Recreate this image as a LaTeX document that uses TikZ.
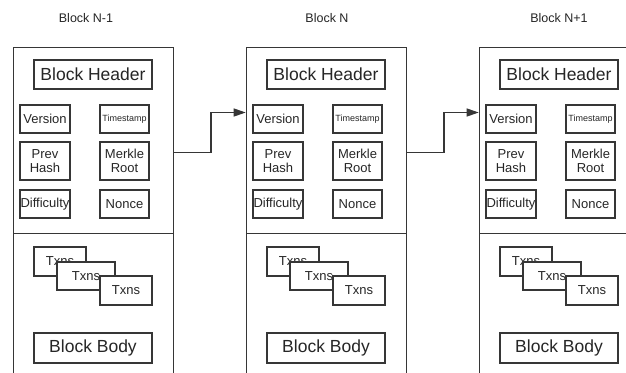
\documentclass[tikz,border=0pt]{standalone}
\usepackage{fontspec}
\setmainfont{Liberation Sans}
\usetikzlibrary{arrows.meta,calc}
\definecolor{edge}{HTML}{363636}
\definecolor{ink}{HTML}{262626}
\tikzset{
  frame/.style={draw=edge, line width=1.3pt, inner sep=0pt, minimum width=160pt, anchor=north west},
  field/.style={draw=edge, line width=1.3pt, fill=white, inner sep=0pt, align=center, text=ink, font=\fontsize{13}{14}\selectfont},
  smallrow/.style={field, minimum height=28pt},
  bigrow/.style={field, minimum height=38pt},
  wide/.style={field, minimum width=118pt, font=\fontsize{17.5}{20}\selectfont},
  txn/.style={field, minimum width=52pt, minimum height=29pt},
  title/.style={text=ink, font=\fontsize{12.5}{14}\selectfont},
  link/.style={-{Triangle[length=12pt,width=8pt]}, line width=1.3pt, draw=edge}
}
\newcommand{\DrawBlock}[4]{% id, xshift, title, title x
  \begin{scope}[xshift=#2]
    \node[frame, minimum height=186.3pt] (hdr#1) at (12.7,46.7) {};
    \node[frame, minimum height=160pt] (body#1) at (12.7,233) {};
    \node[wide, minimum height=29pt] (head#1) at (93,74.5) {Block Header};
    \node[smallrow, minimum width=50pt] (ver#1) at (45,119) {Version};
    \node[smallrow, minimum width=49pt, font=\fontsize{9}{10}\selectfont] (time#1) at (124.5,119) {Timestamp};
    \node[bigrow, minimum width=50pt] (prev#1) at (45,161) {Prev\\Hash};
    \node[bigrow, minimum width=49pt] (root#1) at (124.5,161) {Merkle\\Root};
    \node[smallrow, minimum width=50pt] (diff#1) at (45,204) {Difficulty};
    \node[smallrow, minimum width=49pt] (nonce#1) at (124.5,204) {Nonce};
    % stacked transactions
    \node[txn] (txa#1) at (60,261.5) {Txns};
    \node[txn, minimum width=58pt, minimum height=28pt] (txb#1) at (86,276) {Txns};
    \node[txn] (txc#1) at (126,290.5) {Txns};
    \node[wide, minimum height=30pt] (foot#1) at (93,348) {Block Body};
  \end{scope}
  \node[title] (name#1) at (#4,18.3) {#3};
}

\begin{document}
\begin{tikzpicture}[x=1pt, y=-1pt]
  \useasboundingbox (0,0) rectangle (626,372);
  \fill[white] (0,0) rectangle (626,372);
  \clip (0,0) rectangle (626,372);
  \DrawBlock{a}{0pt}{Block N-1}{86}
  \DrawBlock{b}{233pt}{Block N}{327}
  \DrawBlock{c}{466pt}{Block N+1}{559}
  % links between headers
  \draw[link] ([yshift=-12pt]hdra.east) -- ++(37,0) |- ([yshift=28pt]hdrb.west);
  \draw[link] ([yshift=-12pt]hdrb.east) -- ++(37,0) |- ([yshift=28pt]hdrc.west);
\end{tikzpicture}
\end{document}
